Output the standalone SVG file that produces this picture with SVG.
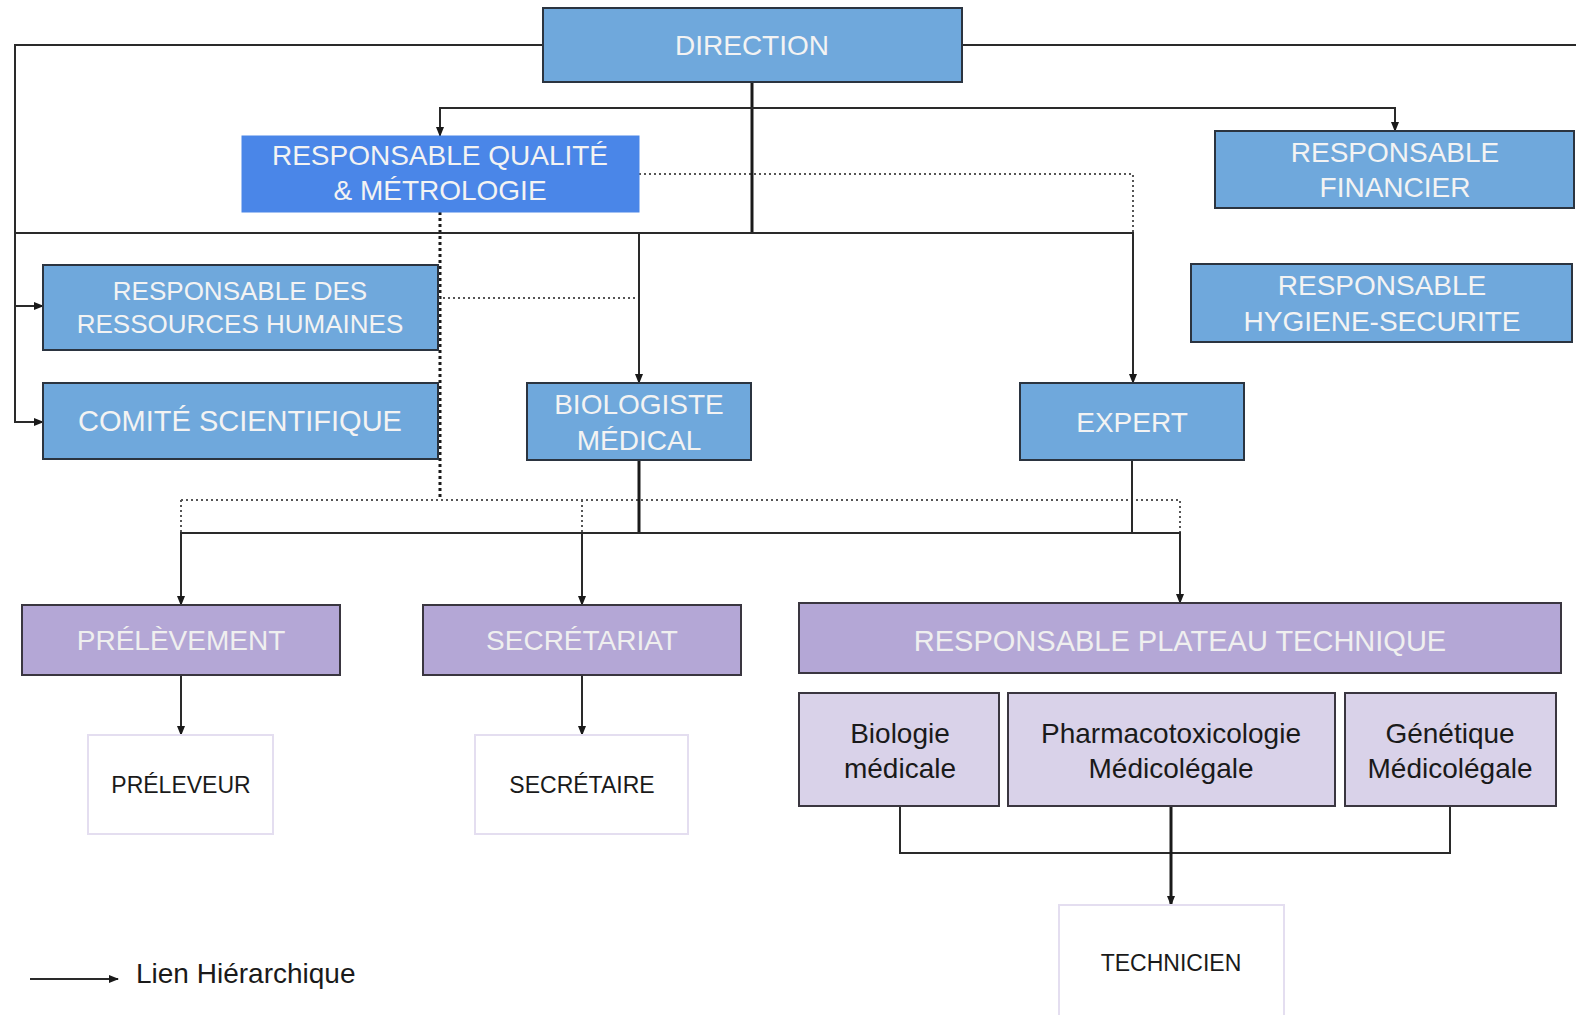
<svg xmlns="http://www.w3.org/2000/svg" width="1576" height="1015" viewBox="0 0 1576 1015">
<style>
text{font-family:"Liberation Sans",Arial,sans-serif;text-anchor:middle}
.blue{fill:#6fa8dc;stroke:#2b3440;stroke-width:2}
.bright{fill:#4a86e8;stroke:#4a86e8;stroke-width:1}
.pur{fill:#b4a7d6;stroke:#3a3640;stroke-width:2}
.lpur{fill:#d9d2e9;stroke:#3a3640;stroke-width:2}
.white{fill:#ffffff;stroke:#e4def0;stroke-width:2}
.wt{fill:#f3f3f3;font-size:28px}
.pt{fill:#efefef;font-size:28px}
.bt{fill:#1a1a1a;font-size:28px}
.st{fill:#1a1a1a;font-size:23px}
.ln{fill:none;stroke:#2a2a2a;stroke-width:2}
.thick{fill:none;stroke:#1a1a1a;stroke-width:3}
.dot{fill:none;stroke:#555;stroke-width:2;stroke-dasharray:2 3}
.dotd{fill:none;stroke:#1a1a1a;stroke-width:3;stroke-dasharray:3 3}
</style>
<defs>
<marker id="ah" markerUnits="userSpaceOnUse" markerWidth="10" markerHeight="10" viewBox="0 0 10 10" refX="9" refY="5" orient="auto">
<path d="M0,1 L10,5 L0,9 z" fill="#1a1a1a"/>
</marker>
</defs>
<rect width="1576" height="1015" fill="#ffffff"/>

<g id="connectors">
<path class="dot" d="M639,174 H1133 V233"/>
<path class="dotd" d="M440,212 V500"/>
<path class="dot" d="M438,298 H639 V383"/>
<path class="dot" d="M181,500 H1180 V533"/>
<path class="dot" d="M181,500 V533"/>
<path class="dot" d="M582,500 V533"/>
<path class="ln" d="M543,45 H15 V422 H43" marker-end="url(#ah)"/>
<path class="ln" d="M15,306 H43" marker-end="url(#ah)"/>
<path class="ln" d="M962,45 H1576"/>
<path class="thick" d="M752,82 V233"/>
<path class="ln" d="M752,108 H440 V136" marker-end="url(#ah)"/>
<path class="ln" d="M752,108 H1395 V131" marker-end="url(#ah)"/>
<path class="ln" d="M15,233 H1133 V383" marker-end="url(#ah)"/>
<path class="ln" d="M639,233 V383" marker-end="url(#ah)"/>
<path class="thick" d="M639,460 V533"/>
<path class="ln" d="M639,533 H181 V605" marker-end="url(#ah)"/>
<path class="ln" d="M582,533 V605" marker-end="url(#ah)"/>
<path class="ln" d="M1132,460 V533 H1180 V603" marker-end="url(#ah)"/>
<path class="ln" d="M639,533 H1132"/>
<path class="ln" d="M181,675 V735" marker-end="url(#ah)"/>
<path class="ln" d="M582,675 V735" marker-end="url(#ah)"/>
<path class="ln" d="M900,806 V853 H1450 V806"/>
<path class="thick" d="M1171,806 V905" marker-end="url(#ah)"/>
<path class="ln" d="M30,979 H118" marker-end="url(#ah)"/>
</g>

<g id="direction"><rect class="blue" x="543" y="8" width="419" height="74"/><text class="wt" x="752" y="55">DIRECTION</text></g>
<g id="qualite"><rect class="bright" x="242" y="136" width="397" height="76"/><text class="wt" x="440" y="165">RESPONSABLE QUALITÉ</text><text class="wt" x="440" y="200">&amp; MÉTROLOGIE</text></g>
<g id="financier"><rect class="blue" x="1215" y="131" width="359" height="77"/><text class="wt" x="1395" y="162">RESPONSABLE</text><text class="wt" x="1395" y="197">FINANCIER</text></g>
<g id="hygiene"><rect class="blue" x="1191" y="264" width="381" height="78"/><text class="wt" x="1382" y="295">RESPONSABLE</text><text class="wt" x="1382" y="331">HYGIENE-SECURITE</text></g>
<g id="rh"><rect class="blue" x="43" y="265" width="395" height="85"/><text class="wt" x="240" y="300" style="font-size:26px">RESPONSABLE DES</text><text class="wt" x="240" y="333" style="font-size:26px">RESSOURCES HUMAINES</text></g>
<g id="comite"><rect class="blue" x="43" y="383" width="395" height="76"/><text class="wt" x="240" y="431" style="font-size:29px">COMITÉ SCIENTIFIQUE</text></g>
<g id="biologiste"><rect class="blue" x="527" y="383" width="224" height="77"/><text class="wt" x="639" y="414">BIOLOGISTE</text><text class="wt" x="639" y="450">MÉDICAL</text></g>
<g id="expert"><rect class="blue" x="1020" y="383" width="224" height="77"/><text class="wt" x="1132" y="432">EXPERT</text></g>
<g id="prelevement"><rect class="pur" x="22" y="605" width="318" height="70"/><text class="pt" x="181" y="650">PRÉLÈVEMENT</text></g>
<g id="secretariat"><rect class="pur" x="423" y="605" width="318" height="70"/><text class="pt" x="582" y="650">SECRÉTARIAT</text></g>
<g id="plateau"><rect class="pur" x="799" y="603" width="762" height="70"/><text class="pt" x="1180" y="651" style="font-size:29px">RESPONSABLE PLATEAU TECHNIQUE</text></g>
<g id="biologie"><rect class="lpur" x="799" y="693" width="200" height="113"/><text class="bt" x="900" y="743">Biologie</text><text class="bt" x="900" y="778">médicale</text></g>
<g id="pharmaco"><rect class="lpur" x="1008" y="693" width="327" height="113"/><text class="bt" x="1171" y="743">Pharmacotoxicologie</text><text class="bt" x="1171" y="778">Médicolégale</text></g>
<g id="genetique"><rect class="lpur" x="1345" y="693" width="211" height="113"/><text class="bt" x="1450" y="743">Génétique</text><text class="bt" x="1450" y="778">Médicolégale</text></g>
<g id="preleveur"><rect class="white" x="88" y="735" width="185" height="99"/><text class="st" x="181" y="793">PRÉLEVEUR</text></g>
<g id="secretaire"><rect class="white" x="475" y="735" width="213" height="99"/><text class="st" x="582" y="793">SECRÉTAIRE</text></g>
<g id="technicien"><rect class="white" x="1059" y="905" width="225" height="120"/><text class="st" x="1171" y="971">TECHNICIEN</text></g>
<g id="legend"><text class="bt" x="136" y="983" style="text-anchor:start">Lien Hiérarchique</text></g>
</svg>
